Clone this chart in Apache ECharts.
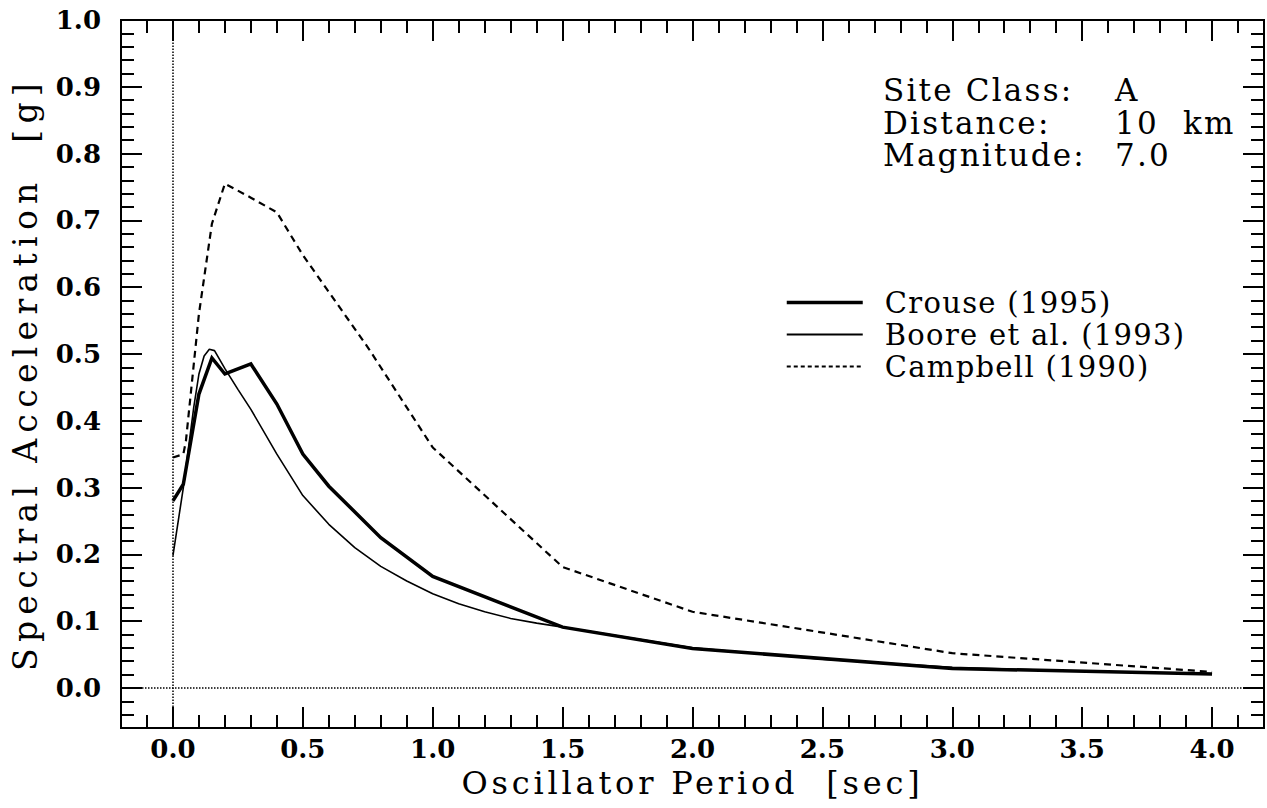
<!DOCTYPE html>
<html>
<head>
<meta charset="utf-8">
<script src="https://cdn.jsdelivr.net/npm/echarts@6/dist/echarts.min.js"></script>
<style>
  html, body { margin: 0; padding: 0; background: #fff; }
  #chart { width: 1267px; height: 808px; }
  /* wide letter spacing for the lettered text, keyed on its font size */
  #chart text[style*="29px"] { letter-spacing: 1.3px; }
  #chart text[style*="31px"] { letter-spacing: 2.2px; }
  #chart text[style*="32px"] { letter-spacing: 3.8px; }
  #chart text[style*="33px"] { letter-spacing: 6.3px; }
</style>
</head>
<body>
<div id="chart"></div>
<script>
// Response spectra, site class A, 10 km, M 7.0
const crousePeriod = [0.0, 0.04, 0.1, 0.15, 0.2, 0.3, 0.4, 0.5, 0.6, 0.8, 1.0, 1.5, 2.0, 3.0, 4.0];
const crouseSA     = [0.28, 0.305, 0.44, 0.494, 0.47, 0.485, 0.425, 0.35, 0.302, 0.225, 0.167, 0.091, 0.059, 0.029, 0.021];

const boorePeriod = [0.0, 0.04, 0.08, 0.1, 0.12, 0.14, 0.16, 0.2, 0.25, 0.3, 0.4, 0.5, 0.6, 0.7, 0.8, 0.9, 1.0, 1.1, 1.2, 1.3, 1.4, 1.5, 2.0, 2.5, 3.0, 3.5, 4.0];
const booreSA     = [0.198, 0.30, 0.42, 0.47, 0.497, 0.507, 0.505, 0.478, 0.447, 0.417, 0.35, 0.288, 0.245, 0.21, 0.182, 0.16, 0.141, 0.126, 0.114, 0.104, 0.097, 0.091, 0.06, 0.043, 0.031, 0.025, 0.021];

const campbellPeriod = [0.0, 0.04, 0.05, 0.075, 0.1, 0.15, 0.2, 0.3, 0.4, 0.5, 0.75, 1.0, 1.5, 2.0, 3.0, 4.0];
const campbellSA     = [0.345, 0.35, 0.37, 0.465, 0.56, 0.695, 0.755, 0.734, 0.712, 0.648, 0.51, 0.36, 0.181, 0.114, 0.052, 0.024];

const seriesNames = ['Crouse (1995)', 'Boore et al. (1993)', 'Campbell (1990)'];

const xMajorTicks = [0.0, 0.5, 1.0, 1.5, 2.0, 2.5, 3.0, 3.5, 4.0];
const yMajorTicks = [0.0, 0.1, 0.2, 0.3, 0.4, 0.5, 0.6, 0.7, 0.8, 0.9, 1.0];

const xTitle = 'Oscillator Period  [sec]';
const yTitle = 'Spectral Acceleration  [g]';

const noteLabels = ['Site Class:', 'Distance:', 'Magnitude:'];
const noteValues = ['A', '10  km', '7.0'];

const FONT = '"DejaVu Serif", serif';
const INK = '#000';

const pairs = (xs, ys) => xs.map((x, i) => [x, ys[i]]);

const xRange = { min: -0.2, max: 4.2 };
const yRange = { min: -0.06, max: 1.0 };

const tickLine = { color: INK, width: 2 };

// one frame side: either a fine tick row (interval) or the major row (custom values)
function frameAxis(extra) {
  return Object.assign({
    type: 'value',
    splitLine: { show: false },
    axisLine: { show: true, onZero: false, lineStyle: { color: INK, width: 2 } },
    axisLabel: { show: false },
    axisTick: { show: false }
  }, extra);
}

function minorSide(position, range, step) {
  return frameAxis(Object.assign({
    position: position,
    interval: step,
    axisTick: { show: true, inside: true, length: 13, lineStyle: tickLine }
  }, range));
}

function majorSide(position, range, ticks, label, nameOpts) {
  return frameAxis(Object.assign({
    position: position,
    axisTick: { show: true, inside: true, length: 21, customValues: ticks, lineStyle: tickLine },
    axisLabel: label ? Object.assign({
      show: true,
      customValues: ticks,
      formatter: v => Number(v).toFixed(1),
      fontFamily: FONT,
      fontSize: 26,
      fontWeight: 'bold',
      color: INK
    }, label) : { show: false }
  }, range, nameOpts || {}));
}

const chart = echarts.init(document.getElementById('chart'), null, { renderer: 'svg' });

chart.setOption({
  animation: false,
  backgroundColor: '#fff',
  textStyle: { fontFamily: FONT, color: INK },
  grid: { left: 121, right: 3, top: 20, bottom: 80, outerBoundsMode: 'none', containLabel: false },
  xAxis: [
    minorSide('bottom', xRange, 0.1),
    majorSide('bottom', xRange, xMajorTicks, { margin: 8 }, {
      name: xTitle,
      nameLocation: 'middle',
      nameGap: 27,
      nameTextStyle: { fontFamily: FONT, fontSize: 32, color: INK }
    }),
    minorSide('top', xRange, 0.1),
    majorSide('top', xRange, xMajorTicks, null)
  ],
  yAxis: [
    minorSide('left', yRange, 0.02),
    majorSide('left', yRange, yMajorTicks, { margin: 20 }, {
      name: yTitle,
      nameLocation: 'middle',
      nameGap: 79,
      nameTextStyle: { fontFamily: FONT, fontSize: 33, color: INK }
    }),
    minorSide('right', yRange, 0.02),
    majorSide('right', yRange, yMajorTicks, null)
  ],
  legend: {
    orient: 'vertical',
    left: 780,
    top: 283,
    itemWidth: 76,
    itemHeight: 14,
    itemGap: 3,
    selectedMode: false,
    itemStyle: { opacity: 0 },
    textStyle: { fontFamily: FONT, fontSize: 29, lineHeight: 29, color: INK, padding: [0, 0, 0, 17] },
    data: [
      { name: seriesNames[0], itemStyle: { opacity: 0 }, lineStyle: { width: 3.5, color: INK } },
      { name: seriesNames[1], itemStyle: { opacity: 0 }, lineStyle: { width: 1.8, color: INK } },
      { name: seriesNames[2], itemStyle: { opacity: 0 }, lineStyle: { width: 1.8, color: INK, type: [4, 3] } }
    ]
  },
  graphic: noteLabels.map((t, i) => ({
    type: 'text',
    x: 883,
    y: 90 + i * 32.5,
    silent: true,
    style: { text: t, fill: INK, fontFamily: FONT, fontSize: 31, verticalAlign: 'middle' }
  })).concat(noteValues.map((t, i) => ({
    type: 'text',
    x: 1115,
    y: 90 + i * 32.5,
    silent: true,
    style: { text: t, fill: INK, fontFamily: FONT, fontSize: 31, verticalAlign: 'middle' }
  }))),
  series: [
    {
      name: seriesNames[0],
      type: 'line',
      symbol: 'none',
      xAxisIndex: 0,
      yAxisIndex: 0,
      z: 4,
      itemStyle: { color: INK },
      lineStyle: { color: INK, width: 3.5, join: 'miter' },
      data: pairs(crousePeriod, crouseSA),
      markLine: {
        silent: true,
        symbol: ['none', 'none'],
        label: { show: false },
        lineStyle: { color: INK, width: 1.5, type: [1.5, 1.5] },
        emphasis: { disabled: true },
        data: [{ xAxis: 0 }, { yAxis: 0 }]
      }
    },
    {
      name: seriesNames[1],
      type: 'line',
      symbol: 'none',
      xAxisIndex: 0,
      yAxisIndex: 0,
      z: 3,
      itemStyle: { color: INK },
      lineStyle: { color: INK, width: 1.6 },
      data: pairs(boorePeriod, booreSA)
    },
    {
      name: seriesNames[2],
      type: 'line',
      symbol: 'none',
      xAxisIndex: 0,
      yAxisIndex: 0,
      z: 2,
      itemStyle: { color: INK },
      lineStyle: { color: INK, width: 2.2, type: [7, 5] },
      data: pairs(campbellPeriod, campbellSA)
    }
  ]
});
</script>
</body>
</html>
